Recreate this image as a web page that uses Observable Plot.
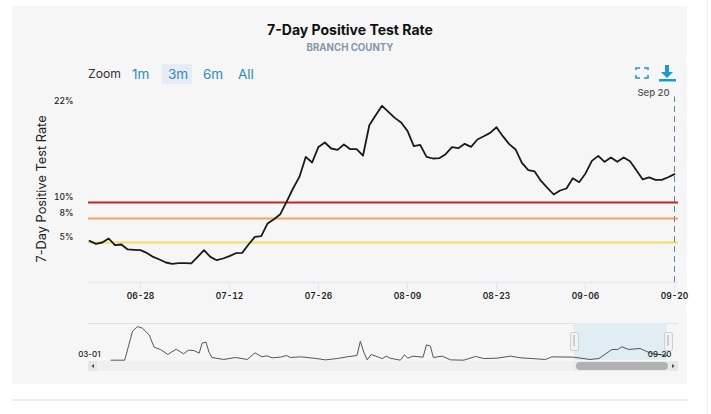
<!DOCTYPE html>
<html>
<head>
<meta charset="utf-8">
<script src="https://cdn.jsdelivr.net/npm/d3@7"></script>
<script src="https://cdn.jsdelivr.net/npm/@observablehq/plot@0.6"></script>
<style>
html,body{margin:0;padding:0;background:#fff;}
body{width:711px;height:414px;overflow:hidden;position:relative;font-family:Inter,"Open Sans",sans-serif;}
.a{position:absolute;white-space:nowrap;}
#main,#nav{position:absolute;left:0;width:711px;}
#main{top:0;height:300px;}
#nav{top:315px;height:60px;}
</style>
</head>
<body>
<div class="a" style="left:12px;top:6px;width:675px;height:378px;background:#f6f6f6"></div>
<div class="a" style="left:12px;top:399px;width:676px;height:2px;background:#eeeeee"></div>
<div class="a" style="left:707px;top:0;width:1px;height:414px;background:#efefef"></div>

<div class="a" style="left:12px;width:676px;top:22px;text-align:center;font-size:14px;font-weight:700;color:#111;line-height:16px">7-Day Positive Test Rate</div>
<div class="a" style="left:12px;width:676px;top:41.5px;text-align:center;font-size:9.7px;font-weight:700;color:#8496ab;line-height:12px">BRANCH COUNTY</div>

<div class="a" style="left:162px;top:64px;width:30px;height:20px;background:#e6ebf5"></div>
<div class="a" style="left:88px;top:66px;font-size:12.2px;color:#333;line-height:16px">Zoom</div>
<div class="a" style="left:132px;top:66px;font-size:13.5px;color:#2b8cb8;line-height:16px">1m</div>
<div class="a" style="left:168px;top:66px;font-size:13.5px;color:#2b8cb8;line-height:16px">3m</div>
<div class="a" style="left:203px;top:66px;font-size:13.5px;color:#2b8cb8;line-height:16px">6m</div>
<div class="a" style="left:238px;top:66px;font-size:13.5px;color:#2b8cb8;line-height:16px">All</div>

<svg class="a" style="left:630px;top:60px" width="50" height="24" viewBox="0 0 50 24">
  <path d="M6 11V9h4M14 9h4v2M18 16v3h-4M10 19H6v-3" transform="translate(0,-1)" fill="none" stroke="#1b9ad6" stroke-width="1.6"/>
  <path d="M35 5h4v7h4l-6 6-6-6h4z" fill="#1b9ad6"/>
  <rect x="29" y="19" width="17" height="2.5" fill="#1b9ad6"/>
</svg>

<div class="a" style="left:-58px;width:200px;top:181px;text-align:center;transform:rotate(-90deg);transform-origin:center;font-size:12.8px;color:#222;line-height:16px">7-Day Positive Test Rate</div>

<div id="main"></div>

<div class="a" style="left:88px;top:323px;width:590px;height:1px;background:#e2e2e2"></div>
<div class="a" style="left:88px;top:361px;width:590px;height:10px;background:#f0f0f0"></div>
<div id="nav"></div>
<div class="a" style="left:574px;top:361px;width:95px;height:10px;background:#e0edf3"></div>
<div class="a" style="left:576px;top:362px;width:92px;height:8px;background:#b2b2b2;border-radius:4px"></div>
<div class="a" style="left:88px;top:361px;width:9px;height:10px;background:#e6e6e6"></div>
<div class="a" style="left:669px;top:361px;width:9px;height:10px;background:#e6e6e6"></div>
<svg class="a" style="left:88px;top:361px" width="590" height="10">
  <path d="M6 3v4l-2.5-2z" fill="#444"/><path d="M584 3v4l2.5-2z" fill="#444"/>
</svg>
<div class="a" style="left:570px;top:332px;width:7px;height:17px;background:#f2f2f2;border:1px solid #cfcfcf;border-radius:2px"></div>
<div class="a" style="left:573px;top:335px;width:2px;height:11px;background:#cfcfcf"></div>
<div class="a" style="left:664px;top:332px;width:7px;height:17px;background:#f2f2f2;border:1px solid #cfcfcf;border-radius:2px"></div>
<div class="a" style="left:667px;top:335px;width:2px;height:11px;background:#cfcfcf"></div>

<script>
const startDate = Date.UTC(2021, 5, 20);
const dayMs = 86400000;
const rates = [5.2,4.83,5.0,5.5,4.66,4.75,4.13,4.08,4.04,3.7,3.2,2.88,2.5,2.33,2.41,2.41,2.38,3.2,4.04,3.2,2.79,3.0,3.29,3.66,3.7,4.75,5.7,5.79,7.38,7.91,8.54,10.1,11.75,13.2,15.7,15.0,16.95,17.5,16.75,16.58,17.25,16.66,16.66,15.85,19.66,20.91,22.08,21.33,20.58,20.0,18.95,17.04,17.2,15.7,15.5,15.54,16.04,16.91,16.79,17.33,16.95,17.88,18.29,18.7,19.41,18.29,17.29,16.63,14.95,14.04,13.88,12.7,11.83,11.0,11.5,11.75,13.04,12.54,13.63,15.2,15.83,15.08,15.63,15.08,15.63,15.16,14.04,12.88,13.13,12.83,12.83,13.16,13.54];
const thresholds = [10, 8, 5];
const thresholdColors = ["#c9231f", "#f4a45c", "#f2df5e"];
const yTicks = [5, 8, 10, 22];
const xTickOffsets = [8,22,36,50,64,78,92];

const navDays = [0,14,18,22,27,32,39,44,50.5,58,66.5,74,79,84.5,90,93,97,100,103,115,127,139,147,154,159,164.5,173,179,183,193.5,207,219,231,241,251,254.5,258,261.5,265.5,273,277,281,285,295.4,299.5,303,308,318.5,322,326,329,338,346.5,360,372,380.5,394,407.6,418,443.4,450,472,489,498,511.4,517,521.6,528.4,540,550.5,554.6,568];
const navRates = [0.5,0.5,23.4,45.8,53,50.5,40,20.8,17.2,9.4,17.7,10.4,16.1,15.6,11.5,27,28.6,13,4.7,1.6,4.7,1.6,12,5.7,7.3,4.2,5.2,7.8,4.7,5.7,3.6,1,3.1,5.7,7.8,30,13,1,9.4,5.2,3,6.8,3.6,0.5,8.9,3.6,6.8,5.2,24.5,22.4,4.7,6.8,1,0.5,6.3,3.1,3.6,6.8,4.2,1.6,5.7,5.2,1.6,3.1,17.2,17.2,21.4,17.2,18.8,11.5,10,8];
const navLabels = ["03-01","09-20"];
const navSelection = [473, 568];

const series = rates.map((v, i) => ({date: new Date(startDate + i * dayMs), v}));
const tickDates = xTickOffsets.map(d => new Date(startDate + d * dayMs));
const lastDate = new Date(startDate + 92 * dayMs);
const domainStart = new Date(startDate - 4 * 3600000);
const font = "Inter, 'Open Sans', sans-serif";

const main = Plot.plot({
  width: 711, height: 300,
  marginLeft: 88, marginRight: 33, marginTop: 106, marginBottom: 18,
  style: {background: "transparent", fontFamily: font, overflow: "visible"},
  x: {type: "utc", domain: [domainStart, new Date(startDate + 92 * dayMs + 15 * 3600000)]},
  y: {domain: [0, 22]},
  marks: [
    Plot.ruleY([0], {stroke: "#e4e8f4", strokeWidth: 1.5}),
    Plot.axisX(tickDates, {tickFormat: d3.utcFormat("%m-%d"), tickSize: 9, tickPadding: 1, stroke: "#e4e8f4", fill: "#222", fontSize: 8.5, fontWeight: 600, label: null}),
    Plot.axisY(yTicks, {tickFormat: d => d + "%", tickSize: 0, tickPadding: 15, dy: -5, fill: "#222", fontSize: 8.5, fontWeight: 500, label: null}),
    Plot.ruleY(thresholds, {stroke: (d, i) => thresholdColors[i], strokeWidth: 2}),
    Plot.line(series, {x: "date", y: "v", stroke: "#1a1a1a", strokeWidth: 1.8}),
    Plot.ruleX([lastDate], {y1: 0, y2: 23.2, stroke: "#5f8598", strokeWidth: 1, strokeDasharray: "6,4"}),
    Plot.text([lastDate], {x: d => d, y: 23.65, text: () => "Sep 20", textAnchor: "end", dx: -5, fontSize: 9.5, fontWeight: 500, fill: "#555"})
  ]
});
document.getElementById("main").appendChild(main);

const navSeries = navDays.map((d, i) => ({d, v: navRates[i]}));
const nav = Plot.plot({
  width: 711, height: 60,
  marginLeft: 110.5, marginRight: 44, marginTop: 8, marginBottom: 15,
  style: {background: "transparent", fontFamily: font, overflow: "visible"},
  x: {domain: [0, 568], axis: null},
  y: {domain: [0, 57.8], axis: null},
  marks: [
    Plot.rect([navSelection], {x1: d => d[0], x2: d => d[1], fill: "#e0edf3"}),
    Plot.line(navSeries, {x: "d", y: "v", stroke: "#555", strokeWidth: 1}),
    Plot.text([0], {x: d => d, y: 0, text: () => navLabels[0], textAnchor: "end", dx: -10.5, dy: -6, fontSize: 8, fontWeight: 500, fill: "#222"}),
    Plot.text([568], {x: d => d, y: 0, text: () => navLabels[1], textAnchor: "end", dx: 4, dy: -6, fontSize: 8, fontWeight: 500, fill: "#222"})
  ]
});
document.getElementById("nav").appendChild(nav);
</script>
</body>
</html>
